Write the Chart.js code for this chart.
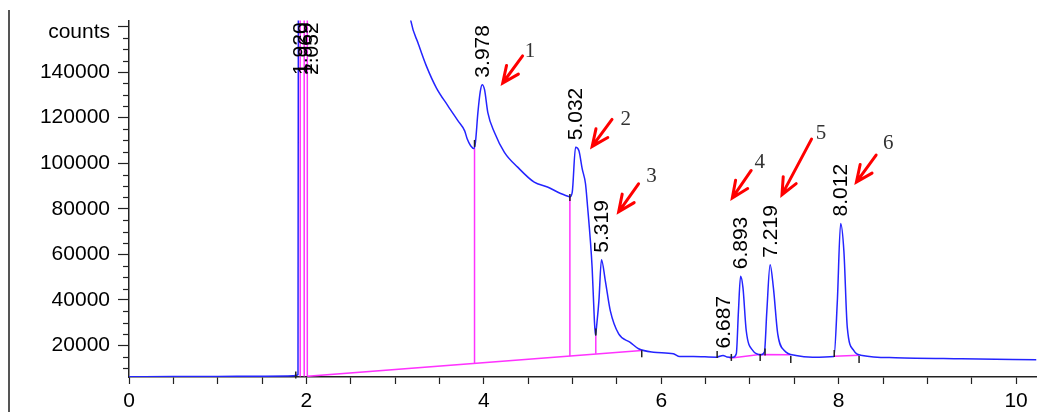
<!DOCTYPE html>
<html>
<head>
<meta charset="utf-8">
<script src="https://cdn.jsdelivr.net/npm/chart.js@4.4.0/dist/chart.umd.min.js"></script>
<style>
body{margin:0;background:#fff;}
#wrap{position:relative;width:1042px;height:412px;}
#crom{position:absolute;left:0;top:0;}
#edge{position:absolute;left:8px;top:10px;width:2px;height:402px;background:#555;}
</style>
</head>
<body>
<div id="wrap"><canvas id="crom" width="1042" height="412"></canvas><div id="edge"></div></div>
<script>
// trace (retention time in min, detector counts)
var tiempos = [0, 0.5, 1, 1.5, 1.85, 1.89, 1.905, 1.915, 2.5, 3.0, 3.1, 3.18, 3.26, 3.354, 3.466, 3.597, 3.709, 3.784, 3.813, 3.851, 3.888,
  3.905, 3.933, 3.96, 3.981, 4.008, 4.045, 4.12, 4.232, 4.381, 4.568, 4.717, 4.866, 4.95, 4.971, 4.997, 5.034, 5.072, 5.109, 5.146,
  5.165, 5.221, 5.245, 5.258, 5.275, 5.297, 5.326, 5.37, 5.426, 5.52, 5.65, 5.744, 5.913, 6.137, 6.207, 6.361, 6.622, 6.697, 6.74,
  6.809, 6.846, 6.87, 6.894, 6.921, 6.958, 7.033, 7.126, 7.163, 7.19, 7.227, 7.264, 7.313, 7.387, 7.518, 7.705, 7.947, 7.985, 8.022,
  8.059, 8.097, 8.171, 8.266, 8.639, 9.386, 10.23];
var cuentas = [6300, 6400, 6450, 6550, 6700, 7000, 7300, 400000, 900000, 320000, 185000, 162000, 152600, 142500, 133000, 125100, 118600, 114200, 110600, 107700, 106500,
  109000, 122200, 131500, 134500, 132300, 122200, 113500, 104800, 98300, 91700, 89600, 86700, 85500, 85200, 87400, 107000, 105500, 97500, 91000,
  83000, 54000, 32000, 24500, 30000, 39600, 57700, 48300, 35200, 25100, 21400, 18600, 17100, 16400, 15200, 15200, 14900, 15650, 15000,
  14900, 16400, 35000, 50400, 45400, 26500, 17800, 16000, 17100, 35000, 55500, 45400, 25100, 17800, 15650, 14900, 15200, 39600, 73600,
  61300, 28000, 17800, 15650, 14650, 14200, 13800];

// integration baselines and drop lines
var lineasBase = [[[2.01, 6500], [5.78, 17830]], [[6.77, 14480], [7.11, 16090], [7.46, 15960]], [[7.95, 15350], [8.23, 15780]]];
var caidas = [[1.93, 6400, 400000], [1.975, 6450, 400000], [2.01, 6500, 400000], [3.895, 12210, 106600], [4.97, 15300, 85200], [5.262, 16400, 24500]];
// peak start/end marks
var marcas = [[1.88, 7060], [2.0, 3700], [3.895, 108700], [4.97, 85000], [5.263, 26000], [5.78, 16390], [6.63, 16090], [6.79, 14780],
  [7.115, 14780], [7.17, 17170], [7.46, 13910], [7.95, 16520], [8.23, 13910]];

// peak labels
var picosTxt = ['1.920', '1.969', '2.052', '3.978', '5.032', '5.319', '6.687', '6.893', '7.219', '8.012'];
var picosT = [1.925, 1.99, 2.055, 3.981, 5.034, 5.326, 6.697, 6.894, 7.227, 8.022];
var picosC = [135700, 135700, 135700, 134500, 107000, 57700, 15650, 50400, 55500, 73600];

// red arrows: number, tail, head, number position (data coords)
var flechasN = ['1', '2', '3', '4', '5', '6'];
var flechasDe = [[4.437, 147090], [5.445, 119260], [5.744, 91000], [7.014, 96830], [7.694, 110570], [8.422, 103610]];
var flechasA = [[4.213, 135220], [5.221, 107390], [5.52, 78700], [6.801, 84790], [7.361, 86220], [8.2, 91740]];
var flechasTxt = [[4.52, 149000], [5.6, 119200], [5.89, 94300], [7.11, 100400], [7.8, 113000], [8.56, 108700]];

var yTicks = [20000, 40000, 60000, 80000, 100000, 120000, 140000, 160000];
var yTitulo = 'counts';

var fuente = '"Liberation Sans", Arial, Helvetica, sans-serif';

var traza = tiempos.map(function(t, i){ return {x: t, y: cuentas[i]}; });
var base = [];
lineasBase.forEach(function(seg){
  seg.forEach(function(p){ base.push({x: p[0], y: p[1]}); });
  base.push({x: seg[seg.length-1][0], y: null});
});
var gotas = [];
caidas.forEach(function(d){
  gotas.push({x: d[0], y: d[1]}); gotas.push({x: d[0], y: d[2]}); gotas.push({x: d[0], y: null});
});

var extras = {
  id: 'extras',
  afterDatasetsDraw: function(chart){
    var c = chart.ctx, xs = chart.scales.x, ys = chart.scales.y, a = chart.chartArea;
    c.save();
    // minor ticks on y axis
    c.strokeStyle = '#222'; c.lineWidth = 1.2;
    for (var v = 10000; v <= 160000; v += 5000) {
      if (v % 20000 === 0) continue;
      var py = Math.round(ys.getPixelForValue(v)) + 0.5;
      if (py < a.top || py > a.bottom) continue;
      c.beginPath(); c.moveTo(a.left - 6, py); c.lineTo(a.left, py); c.stroke();
    }
    c.fillStyle = '#000';
    c.font = '21px ' + fuente;
    c.textAlign = 'right'; c.textBaseline = 'middle';
    c.fillText(yTitulo, a.left - 19, ys.getPixelForValue(160000) + 6);

    // rotated peak labels
    c.textAlign = 'left';
    for (var i = 0; i < picosTxt.length; i++) {
      c.save();
      c.translate(xs.getPixelForValue(picosT[i]), ys.getPixelForValue(picosC[i]) - 7);
      c.rotate(-Math.PI / 2);
      c.fillText(picosTxt[i], 0, 1);
      c.restore();
    }

    // arrows
    c.strokeStyle = '#ff0000'; c.lineWidth = 3; c.lineCap = 'round';
    for (var k = 0; k < flechasN.length; k++) {
      var x0 = xs.getPixelForValue(flechasDe[k][0]), y0 = ys.getPixelForValue(flechasDe[k][1]);
      var x1 = xs.getPixelForValue(flechasA[k][0]), y1 = ys.getPixelForValue(flechasA[k][1]);
      var ang = Math.atan2(y0 - y1, x0 - x1);
      c.beginPath();
      c.moveTo(x0, y0); c.lineTo(x1, y1);
      c.moveTo(x1 + 18 * Math.cos(ang - 0.42), y1 + 18 * Math.sin(ang - 0.42));
      c.lineTo(x1, y1);
      c.lineTo(x1 + 18 * Math.cos(ang + 0.42), y1 + 18 * Math.sin(ang + 0.42));
      c.stroke();
    }
    c.fillStyle = '#333';
    c.font = '21px "Liberation Serif", "Times New Roman", serif';
    c.textAlign = 'center'; c.textBaseline = 'middle';
    for (var m = 0; m < flechasN.length; m++) {
      c.fillText(flechasN[m], xs.getPixelForValue(flechasTxt[m][0]), ys.getPixelForValue(flechasTxt[m][1]));
    }
    c.restore();
  }
};

new Chart(document.getElementById('crom'), {
  type: 'scatter',
  data: {
    datasets: [
      { label: 'marks', data: marcas.map(function(p){ return {x: p[0], y: p[1]}; }), showLine: false,
        pointStyle: 'line', rotation: 90, pointRadius: 3.5, borderColor: '#222', borderWidth: 1.5, clip: false, order: 0 },
      { label: 'trace', data: traza, showLine: true, borderColor: '#2424ff', borderWidth: 1.5, pointRadius: 0,
        cubicInterpolationMode: 'monotone', order: 1 },
      { label: 'baseline', data: base, showLine: true, spanGaps: false, borderColor: '#ff33ff', borderWidth: 1.5, pointRadius: 0, order: 2 },
      { label: 'drops', data: gotas, showLine: true, spanGaps: false, borderColor: '#ff33ff', borderWidth: 1.5, pointRadius: 0, order: 2 }
    ]
  },
  options: {
    responsive: false,
    animation: false,
    devicePixelRatio: 1,
    layout: { padding: { top: 17, right: 0, left: 0, bottom: 0 } },
    plugins: { legend: { display: false }, tooltip: { enabled: false } },
    scales: {
      x: {
        type: 'linear', min: 0, max: 10.23,
        border: { color: '#222', width: 1.5 },
        grid: { drawOnChartArea: false, drawTicks: true, tickLength: 7, tickColor: '#222', tickWidth: 1.2 },
        ticks: { stepSize: 0.5, autoSkip: false, includeBounds: false, maxRotation: 0, padding: 5, color: '#000',
          font: { family: fuente, size: 21 },
          callback: function(v){ return (Math.abs(v % 2) < 1e-9) ? String(v) : ''; } },
        afterFit: function(s){ s.height = 35; }
      },
      y: {
        type: 'linear', min: 6200, max: 162600,
        border: { color: '#222', width: 1.5 },
        grid: { drawOnChartArea: false, drawTicks: true, tickLength: 11, tickColor: '#222', tickWidth: 1.2 },
        ticks: { padding: 8, color: '#000', font: { family: fuente, size: 21 },
          callback: function(v){ return v === 160000 ? '' : String(v); } },
        afterBuildTicks: function(s){ s.ticks = yTicks.map(function(v){ return {value: v}; }); },
        afterFit: function(s){ s.width = 129; }
      }
    }
  },
  plugins: [extras]
});
</script>
</body>
</html>
